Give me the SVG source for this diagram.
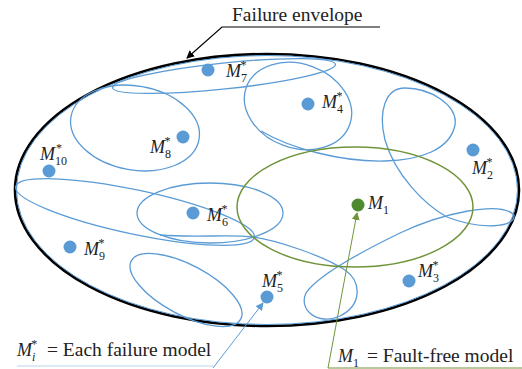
<svg xmlns="http://www.w3.org/2000/svg" width="522" height="369" viewBox="0 0 522 369">
<style>
.b{fill:none;stroke:#5b9bd5;stroke-width:1.3}
.g{fill:none;stroke:#70943a;stroke-width:1.5}
.dot{fill:#5b9bd5}
.t{font-family:"Liberation Serif",serif;font-size:19.5px;fill:#222}
.m{font-family:"Liberation Serif",serif;font-style:italic;font-size:18px;fill:#222}
.s{font-style:normal;font-size:12px}
.si{font-style:italic;font-size:12px}
.n{font-style:normal;font-size:19.5px}
</style>
<defs>
<marker id="ak" markerWidth="8" markerHeight="8" refX="7" refY="4" orient="auto" markerUnits="userSpaceOnUse"><path d="M0,0 L8,4 L0,8 Z" fill="#000"/></marker>
<marker id="ab" markerWidth="8" markerHeight="8" refX="7" refY="4" orient="auto" markerUnits="userSpaceOnUse"><path d="M0,0 L8,4 L0,8 Z" fill="#5b9bd5"/></marker>
<marker id="ag" markerWidth="8" markerHeight="8" refX="7" refY="4" orient="auto" markerUnits="userSpaceOnUse"><path d="M0,0 L8,4 L0,8 Z" fill="#70943a"/></marker>
</defs>
<rect width="522" height="369" fill="#fff"/>
<g id="envelope">
<ellipse cx="267" cy="190" rx="252" ry="136" fill="none" stroke="#000" stroke-width="2.6"/>
<ellipse cx="267" cy="190" rx="250.5" ry="134.5" fill="none" stroke="#5b9bd5" stroke-width="1"/>
</g>
<g id="regions">
<ellipse class="b" cx="224" cy="76" rx="112" ry="13" transform="rotate(-6 224 76)"/>
<ellipse class="b" cx="135" cy="128" rx="65" ry="42" transform="rotate(10 135 128)"/>
<ellipse class="b" cx="135" cy="212" rx="122" ry="22" transform="rotate(12 135 212)"/>
<ellipse class="b" cx="210" cy="213" rx="73" ry="30"/>
<ellipse class="b" cx="186" cy="290" rx="62" ry="25" transform="rotate(28 186 290)"/>
<ellipse class="b" cx="298" cy="106" rx="55" ry="42" transform="rotate(20 298 106)"/>
<path class="b" d="M160,235 C195,238 230,234 253,237 C275,240 322,255 345,270 C362,282 362,305 340,316 C318,326 298,310 306,293 C318,275 365,250 400,233 C440,214 500,200 514,215 C516,228 480,230 447,217 C425,205 395,175 385,140 C378,112 385,88 405,88 C430,88 458,105 455,125 C450,150 420,160 385,161 C340,162 290,148 261,131"/>
</g>
<g id="ellipse_m1">
<ellipse class="g" cx="355" cy="207" rx="118" ry="60"/>
</g>
<g id="title">
<text class="t" x="232" y="21">Failure envelope</text>
</g>
<g id="connectors">
<polyline points="380,27 222,27 187,58" fill="none" stroke="#000" stroke-width="1.2" marker-end="url(#ak)"/>
<line x1="17" y1="366" x2="213" y2="366" stroke="#bcd4ea" stroke-width="1"/>
<line x1="213" y1="368" x2="263" y2="303" stroke="#5b9bd5" stroke-width="1" marker-end="url(#ab)"/>
<polyline points="522,368 328,368 357,213" fill="none" stroke="#70943a" stroke-width="1" marker-end="url(#ag)"/>
</g>
<g id="M7"><circle class="dot" cx="208" cy="70" r="6.5"/><text class="m" x="226" y="77">M<tspan class="s" dy="5">7</tspan><tspan class="s" dx="-6.5" dy="-13">*</tspan></text></g>
<g id="M4"><circle class="dot" cx="308" cy="104" r="6.5"/><text class="m" x="322" y="108">M<tspan class="s" dy="5">4</tspan><tspan class="s" dx="-6.5" dy="-13">*</tspan></text></g>
<g id="M8"><circle class="dot" cx="183" cy="137" r="6.5"/><text class="m" x="150" y="153">M<tspan class="s" dy="5">8</tspan><tspan class="s" dx="-6.5" dy="-13">*</tspan></text></g>
<g id="M10"><circle class="dot" cx="49" cy="171" r="6.5"/><text class="m" x="40" y="160">M<tspan class="s" dy="5">10</tspan><tspan class="s" dx="-11" dy="-13">*</tspan></text></g>
<g id="M2"><circle class="dot" cx="473" cy="150" r="6.5"/><text class="m" x="472" y="174">M<tspan class="s" dy="5">2</tspan><tspan class="s" dx="-6.5" dy="-13">*</tspan></text></g>
<g id="M6"><circle class="dot" cx="193" cy="213" r="6.5"/><text class="m" x="207" y="221">M<tspan class="s" dy="5">6</tspan><tspan class="s" dx="-6.5" dy="-13">*</tspan></text></g>
<g id="M9"><circle class="dot" cx="70" cy="247" r="6.5"/><text class="m" x="84" y="255">M<tspan class="s" dy="5">9</tspan><tspan class="s" dx="-6.5" dy="-13">*</tspan></text></g>
<g id="M5"><circle class="dot" cx="267" cy="297" r="6.5"/><text class="m" x="262" y="287">M<tspan class="s" dy="5">5</tspan><tspan class="s" dx="-6.5" dy="-13">*</tspan></text></g>
<g id="M3"><circle class="dot" cx="409" cy="281" r="6.5"/><text class="m" x="418" y="277">M<tspan class="s" dy="5">3</tspan><tspan class="s" dx="-6.5" dy="-13">*</tspan></text></g>
<g id="M1"><circle cx="358" cy="205" r="6.5" fill="#4e8a2e"/><text class="m" x="368" y="209">M<tspan class="s" dy="5">1</tspan></text></g>
<g id="legend_failure"><text class="m" x="17" y="356" font-size="19.5">M<tspan class="si" dy="5">i</tspan><tspan class="s" dx="-4" dy="-13">*</tspan><tspan class="n" x="47" y="356">= Each failure model</tspan></text></g>
<g id="legend_free"><text class="m" x="338" y="362" font-size="19.5">M<tspan class="s" dy="5">1</tspan><tspan class="n" x="367" y="362">= Fault-free model</tspan></text></g>
</svg>
